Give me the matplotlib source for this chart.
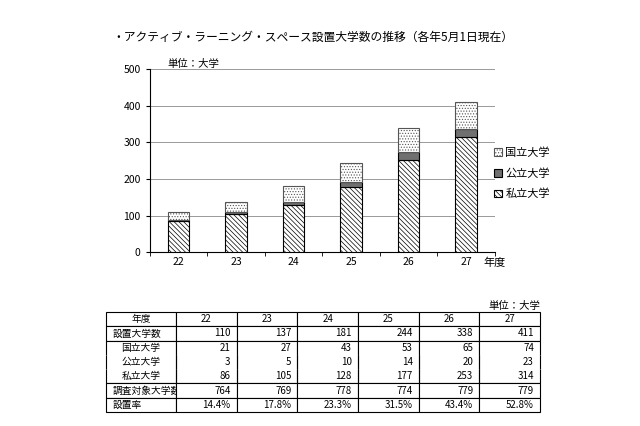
import matplotlib
matplotlib.use('Agg')
from matplotlib import pyplot as plt
import numpy as np

plt.rcParams['font.family'] = ['Noto Sans CJK JP']
plt.rcParams['hatch.linewidth'] = 0.5

years = ['22', '23', '24', '25', '26', '27']
national = [21, 27, 43, 53, 65, 74]
public = [3, 5, 10, 14, 20, 23]
private = [86, 105, 128, 177, 253, 314]
total = [110, 137, 181, 244, 338, 411]
surveyed = [764, 769, 778, 774, 779, 779]
rate = ['14.4%', '17.8%', '23.3%', '31.5%', '43.4%', '52.8%']

fig = plt.figure(figsize=(6.4, 4.26), dpi=100)
fig.text(0.175, 0.905, '・アクティブ・ラーニング・スペース設置大学数の推移（各年5月1日現在）', fontsize=8.5)

ax = fig.add_axes([0.234, 0.408, 0.539, 0.430])
x = np.arange(len(years))
w = 0.38
priv = np.array(private)
pub = np.array(public)
ax.bar(x, private, w, color='white', edgecolor='black', hatch='\\\\\\\\\\\\\\', lw=0.8, label='私立大学', zorder=3)
ax.bar(x, public, w, bottom=priv, color='#707070', edgecolor='black', lw=0.8, label='公立大学', zorder=3)
ax.bar(x, national, w, bottom=priv + pub, color='white', edgecolor='#555555', hatch='......', lw=0.8, label='国立大学', zorder=3)
ax.set_xlim(-0.5, 5.5)
ax.set_ylim(0, 500)
ax.set_yticks(range(0, 501, 100))
ax.set_xticks(x)
ax.set_xticklabels(years)
ax.set_xticks(np.arange(-0.5, 6, 1), minor=True)
ax.tick_params(axis='x', which='major', length=0, labelsize=7.5)
ax.tick_params(axis='x', which='minor', length=3)
ax.tick_params(axis='y', labelsize=7.5, length=3)
ax.grid(axis='y', color='#999999', lw=0.7, zorder=0)
for s in ['top', 'right']:
    ax.spines[s].set_visible(False)
ax.text(0.05, 1.0, '単位：大学', transform=ax.transAxes, fontsize=7.5, va='bottom')
ax.text(5.3, -0.03 * 500, '年度', fontsize=8, va='top', clip_on=False)
h, l = ax.get_legend_handles_labels()
ax.legend(h[::-1], l[::-1], loc='center left', bbox_to_anchor=(0.97, 0.43), frameon=False,
          fontsize=8, handlelength=0.7, handleheight=0.7, handletextpad=0.3, labelspacing=0.9)

# table
tax = fig.add_axes([106 / 640, 1 - 412 / 426, 434 / 640, 100 / 426])
tax.axis('off')
rows = [['年度'] + years,
        ['設置大学数'] + [str(v) for v in total],
        ['国立大学'] + [str(v) for v in national],
        ['公立大学'] + [str(v) for v in public],
        ['私立大学'] + [str(v) for v in private],
        ['調査対象大学数'] + [str(v) for v in surveyed],
        ['設置率'] + rate]
colw = [70 / 434] + [(364 / 6) / 434] * 6
tbl = tax.table(cellText=rows, colWidths=colw, bbox=[0, 0, 1, 1], cellLoc='right')
tbl.auto_set_font_size(False)
tbl.set_fontsize(7)
for (r, c), cell in tbl.get_celld().items():
    cell.set_linewidth(0.8)
    loc = 'right'
    if r == 0:
        loc = 'center'
    elif c == 0:
        loc = 'center' if r in (2, 3, 4) else 'left'
    cell._loc = loc
    cell.get_text().set_ha(loc)
    if r in (2, 3, 4):
        edges = 'LR'
        if r == 2:
            edges = 'TLR'
        if r == 4:
            edges = 'BLR'
        cell.visible_edges = edges
fig.text(540 / 640, 1 - 306 / 426, '単位：大学', fontsize=7.5, ha='right', va='center')

fig.savefig('out.png', dpi=100)
